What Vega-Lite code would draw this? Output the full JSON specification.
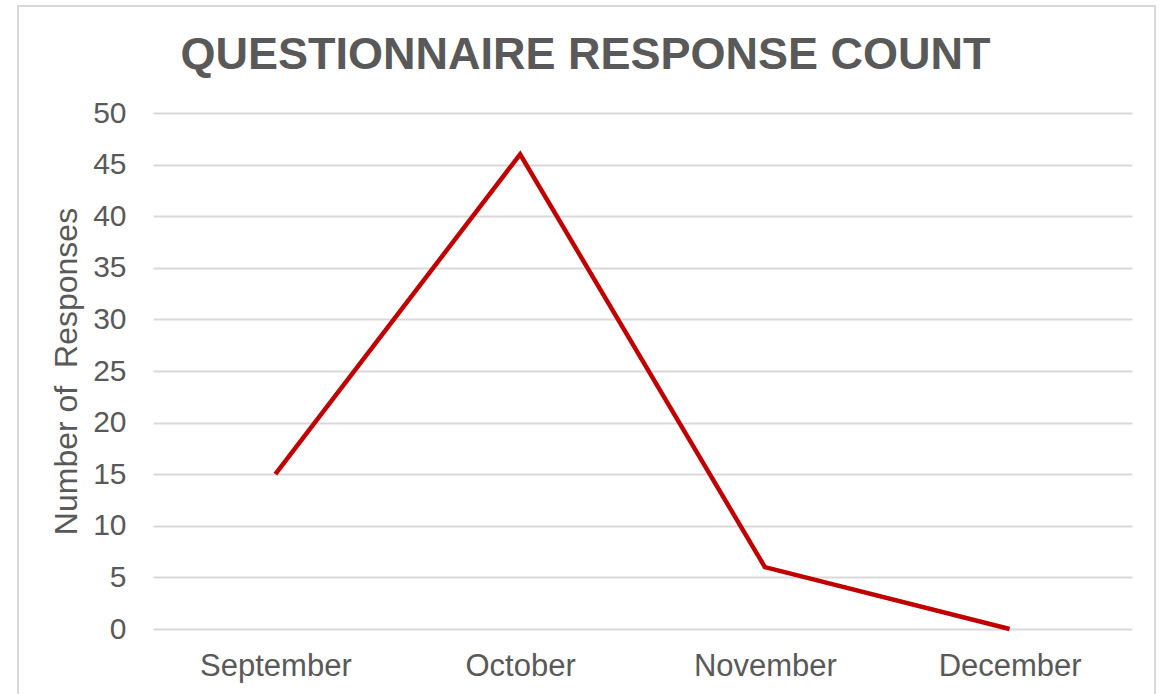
{
  "$schema": "https://vega.github.io/schema/vega-lite/v6.json",
  "autosize": {"type": "none"},
  "width": 1137,
  "height": 694,
  "padding": {"left": 18, "top": 6, "right": 13, "bottom": 0},
  "background": "white",
  "title": {
    "text": "QUESTIONNAIRE RESPONSE COUNT",
    "font": "Liberation Sans",
    "fontSize": 45,
    "fontWeight": "bold",
    "color": "#595959",
    "anchor": "middle",
    "baseline": "alphabetic",
    "dx": -1,
    "offset": 0,
    "dy": 108
  },
  "data": {
    "values": [
      {"month": "September", "responses": 15},
      {"month": "October", "responses": 46},
      {"month": "November", "responses": 6},
      {"month": "December", "responses": 0}
    ]
  },
  "mark": {"type": "line", "color": "#c00000", "strokeWidth": 4.5},
  "encoding": {
    "x": {
      "field": "month",
      "type": "ordinal",
      "sort": null,
      "scale": {"type": "point", "padding": 0.5, "range": [135, 1114]},
      "axis": {
        "title": null,
        "offset": -71,
        "labelAngle": 0,
        "labelFont": "Liberation Sans",
        "labelFontSize": 31,
        "labelColor": "#595959",
        "labelPadding": 22,
        "ticks": false,
        "domain": false,
        "grid": false
      }
    },
    "y": {
      "field": "responses",
      "type": "quantitative",
      "scale": {"domain": [0, 50], "nice": false, "range": [623, 107]},
      "axis": {
        "title": "Number of\u00a0 Responses",
        "offset": -135,
        "titleFont": "Liberation Sans",
        "titleFontSize": 32,
        "titleFontWeight": "normal",
        "titleColor": "#595959",
        "titlePadding": 9,
        "values": [0, 5, 10, 15, 20, 25, 30, 35, 40, 45, 50],
        "labelFont": "Liberation Sans",
        "labelFontSize": 30,
        "labelColor": "#595959",
        "labelPadding": 27,
        "ticks": false,
        "domain": false,
        "grid": true,
        "gridColor": "#d9d9d9",
        "gridWidth": 2
      }
    }
  },
  "config": {"view": {"stroke": "#d9d9d9", "strokeWidth": 2}}
}
